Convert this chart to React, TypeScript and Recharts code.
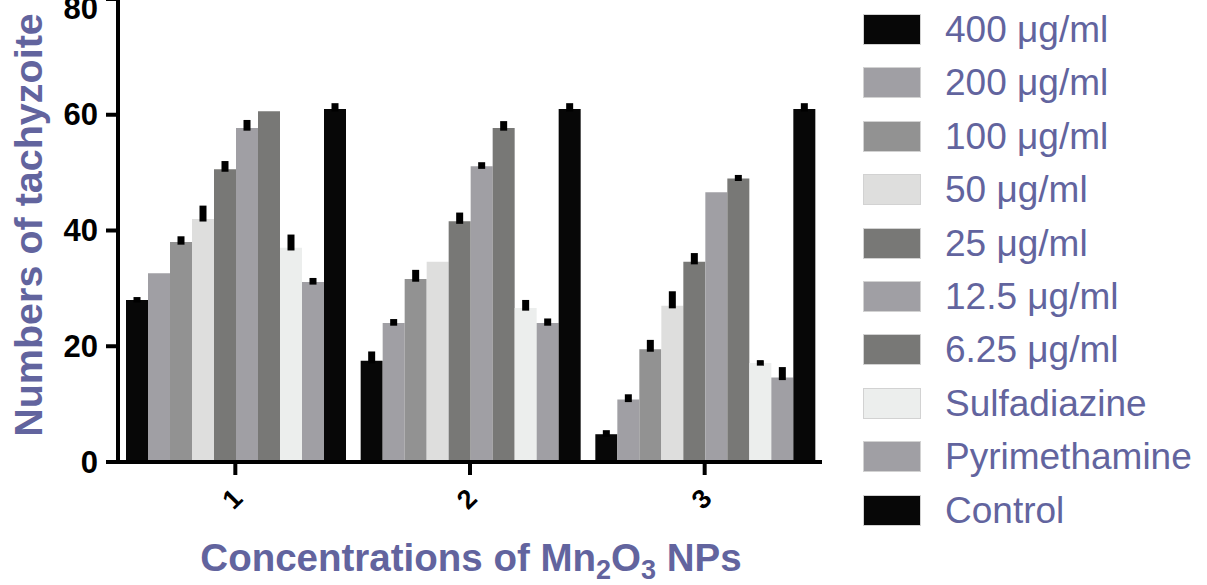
import React from 'react'
import { BarChart, Bar, XAxis, YAxis, ErrorBar, Legend } from 'recharts'

const FONT = '"Liberation Sans", Arial, Helvetica, sans-serif'
const LABEL_COLOR = '#62649e'

const groups = ['1', '2', '3']
const seriesNames = [
  '400 μg/ml',
  '200 μg/ml',
  '100 μg/ml',
  '50 μg/ml',
  '25 μg/ml',
  '12.5 μg/ml',
  '6.25 μg/ml',
  'Sulfadiazine',
  'Pyrimethamine',
  'Control',
]
const seriesColors = ['#070707', '#a09fa4', '#929292', '#dededd', '#787876', '#a09fa4', '#787876', '#eceeed', '#a09fa4', '#070707']

// means, one value per group (1, 2, 3)
const means = [
  [28.0, 17.5, 4.8],
  [32.6, 24.0, 10.8],
  [38.0, 31.6, 19.5],
  [42.0, 34.6, 27.0],
  [50.6, 41.6, 34.6],
  [57.7, 51.1, 46.6],
  [60.6, 57.7, 49.0],
  [37.0, 26.6, 17.1],
  [31.1, 24.0, 14.6],
  [61.0, 61.0, 61.0],
]
// upper error per group (0 = none drawn)
const errors = [
  [0.5, 1.6, 0.7],
  [0, 0.7, 0.9],
  [1.0, 1.6, 1.6],
  [2.3, 0, 2.5],
  [1.4, 1.5, 1.5],
  [1.4, 0.7, 0],
  [0, 1.2, 0.6],
  [2.3, 1.4, 0.5],
  [0.7, 0.8, 1.8],
  [1.0, 1.0, 1.0],
]
const yTicks = [0, 20, 40, 60, 80]

const data = groups.map((g, gi) => {
  const row: any = { name: g }
  seriesNames.forEach((_, si) => {
    row['s' + si] = means[si][gi]
    const e = errors[si][gi]
    row['e' + si] = e > 0 ? [0.45, e] : [0, 0]
  })
  return row
})

const renderLegend = () => (
  <div style={{ position: 'relative', width: 385, height: 585, fontFamily: FONT }}>
    {seriesNames.map((n, i) => (
      <div
        key={n}
        style={{ position: 'absolute', left: 41, top: 15 + i * 53.4, height: 31, display: 'flex', alignItems: 'center' }}
      >
        <div
          style={{ width: 58, height: 31, background: seriesColors[i], boxSizing: 'border-box', border: '1px solid #d2d2d2' }}
        />
        <span style={{ marginLeft: 24, fontSize: 37, lineHeight: '31px', color: LABEL_COLOR, whiteSpace: 'nowrap' }}>{n}</span>
      </div>
    ))}
  </div>
)

const XTick = (props: any) => {
  const { x, y, payload } = props
  return (
    <g transform={`translate(${x - 3},${y + 22}) rotate(-45)`}>
      <text textAnchor="middle" dominantBaseline="central" fontSize={27} fontWeight="bold" fill="#000" fontFamily={FONT}>
        {payload.value}
      </text>
    </g>
  )
}

const YTick = (props: any) => {
  const { x, y, payload } = props
  return (
    <text x={x} y={y} textAnchor="end" dominantBaseline="central" fontSize={31} fontWeight="bold" fill="#000" fontFamily={FONT}>
      {payload.value}
    </text>
  )
}

export default function App() {
  return (
    <div style={{ position: 'absolute', top: -1, left: 0, background: '#fff' }}>
      <BarChart
        width={1207}
        height={586}
        data={data}
        margin={{ top: 0, right: 0, bottom: 0, left: 0 }}
        barCategoryGap={8}
        barGap={0}
      >
        <XAxis
          dataKey="name"
          height={123}
          stroke="#000"
          strokeWidth={4}
          tickSize={13}
          tick={<XTick />}
          label={{
            content: () => (
              <text x={471} y={572} textAnchor="middle" fontSize={38.5} fontWeight="bold" fill={LABEL_COLOR} fontFamily={FONT}>
                Concentrations of Mn
                <tspan fontSize={27} dy={8}>2</tspan>
                <tspan dy={-8}>O</tspan>
                <tspan fontSize={27} dy={8}>3</tspan>
                <tspan dy={-8}> NPs</tspan>
              </text>
            ),
          }}
        />
        <YAxis
          width={118}
          domain={[0, 80]}
          ticks={yTicks}
          stroke="#000"
          strokeWidth={4}
          tickSize={12}
          tickMargin={8}
          tick={<YTick />}
          label={{
            content: () => (
              <text
                transform="translate(28,226) rotate(-90)"
                textAnchor="middle"
                dominantBaseline="central"
                fontSize={39.5}
                fontWeight="bold"
                fill={LABEL_COLOR}
                fontFamily={FONT}
              >
                Numbers of tachyzoite
              </text>
            ),
          }}
        />
        <Legend layout="vertical" align="right" verticalAlign="top" content={renderLegend} />
        {seriesNames.map((n, i) => (
          <Bar key={n} dataKey={'s' + i} name={n} fill={seriesColors[i]} isAnimationActive={false}>
            <ErrorBar dataKey={'e' + i} direction="y" width={0} strokeWidth={7} stroke="#000" />
          </Bar>
        ))}
      </BarChart>
    </div>
  )
}
